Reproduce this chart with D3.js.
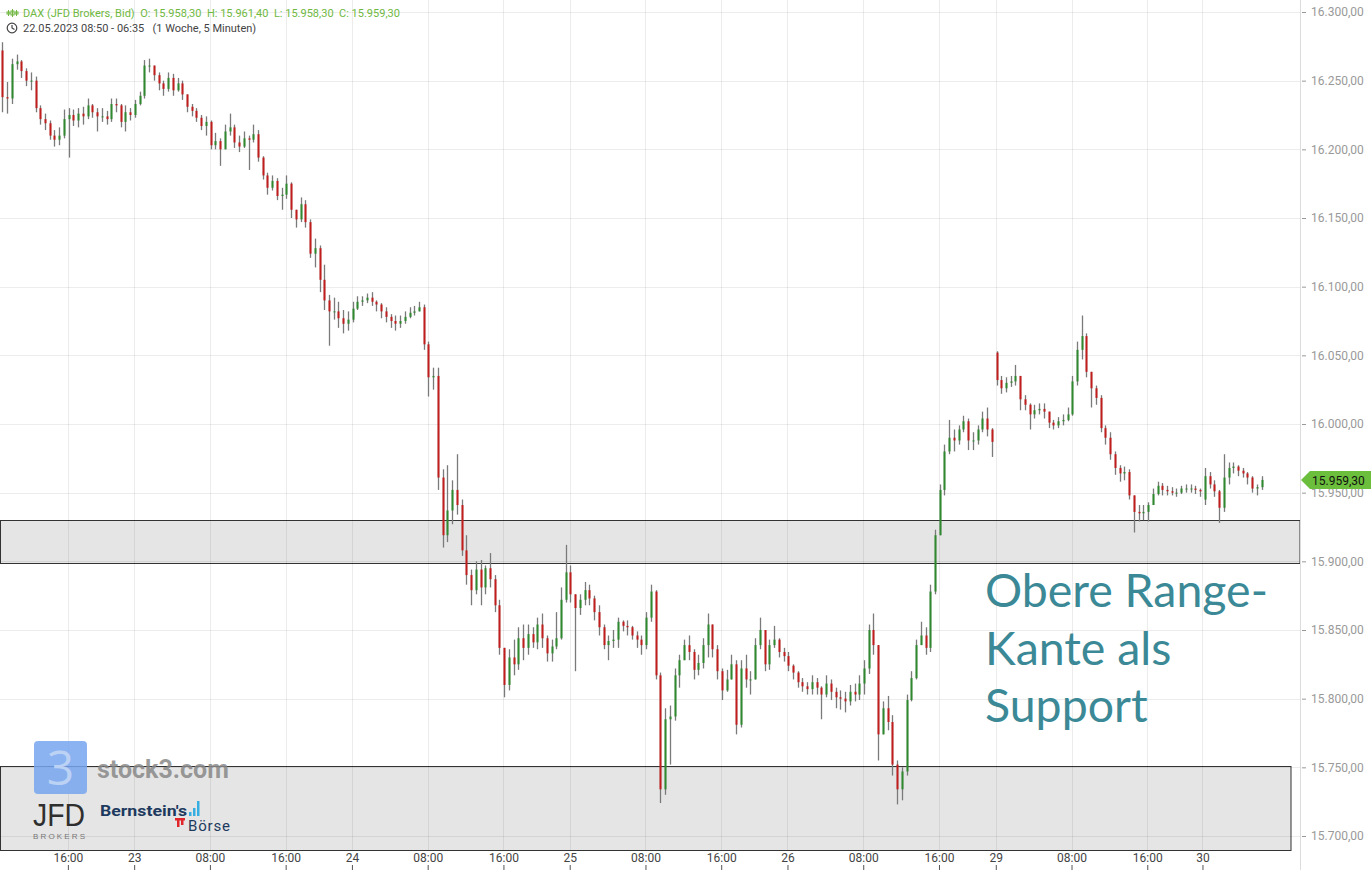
<!DOCTYPE html>
<html><head><meta charset="utf-8">
<script src="https://cdn.jsdelivr.net/npm/d3@7"></script>
<style>
html,body{margin:0;padding:0;background:#fff;}
svg{display:block;font-family:Roboto,"Liberation Sans",Arial,sans-serif;}
</style></head><body>
<svg id="c" width="1371" height="870"></svg>
<script>
// ---- DATA (30-minute candles; open = previous close unless gap) ----
const closes = [
16238,16237,16262,16264,16257,16250,16250,16230,16222,16219,
16210,16207,16210,16222,16225,16221,16226,16224,16232,16227,
16224,16224,16222,16233,16232,16220,16227,16225,16233,16239,
16261,16261,16254,16248,16244,16252,16243,16248,16240,16231,
16228,16223,16217,16220,16203,16206,16200,16213,16216,16205,
16202,16208,16207,16211,16194,16181,16172,16177,16166,16167,
16175,16156,16149,16160,16147,16124,16128,16105,16090,16082,
16082,16077,16073,16076,16084,16089,16090,16092,16089,16087,
16082,16078,16075,16073,16075,16078,16081,16082,16085,16058,
16034,16035,15961,15919,15937,15952,15941,15908,15890,15879,
15894,15881,15895,15887,15868,15837,15810,15830,15825,15844,
15837,15847,15841,15854,15844,15833,15838,15844,15872,15892,
15876,15866,15872,15879,15873,15863,15852,15839,15842,15843,
15856,15853,15852,15846,15843,15839,15859,15878,15817,15734,
15785,15787,15817,15828,15839,15834,15821,15826,15839,15854,
15836,15820,15806,15814,15825,15781,15822,15814,15814,15839,
15850,15825,15839,15843,15834,15831,15824,15819,15812,15809,
15807,15812,15808,15803,15811,15805,15801,15800,15798,15805,
15803,15811,15822,15850,15839,15774,15793,15783,15752,15734,
15747,15799,15815,15839,15846,15837,15878,15919,15952,15980,
15990,15988,15996,16002,15988,15988,15996,16004,15996,15987,
16032,16026,16030,16031,16035,16018,16014,16007,16010,16011,
16009,16001,15999,16002,16003,16007,16031,16054,16064,16038,
16026,16019,15997,15990,15978,15968,15964,15965,15948,15936,
15935,15936,15941,15949,15955,15952,15951,15950,15950,15953,
15953,15953,15952,15951,15962,15956,15951,15939,15961,15968,
15969,15966,15964,15961,15953,15954,15959.3];
const highs = [
16278,16249,16266,16269,16265,16259,16256,16253,16232,16226,
16221,16214,16216,16229,16230,16229,16230,16231,16237,16233,
16230,16230,16228,16237,16237,16233,16232,16230,16236,16242,
16265,16266,16261,16256,16250,16256,16255,16252,16250,16240,
16233,16230,16225,16224,16221,16212,16208,16218,16226,16218,
16210,16213,16210,16218,16214,16195,16183,16181,16179,16172,
16181,16176,16156,16165,16163,16149,16135,16130,16116,16094,
16092,16089,16083,16082,16089,16093,16093,16095,16096,16090,
16088,16085,16080,16079,16079,16082,16085,16086,16089,16087,
16060,16041,16041,15967,15970,15959,15978,15945,15919,15894,
15900,15901,15897,15906,15890,15872,15837,15836,15843,15852,
15854,15854,15852,15859,15862,15846,15843,15863,15881,15912,
15897,15876,15876,15885,15883,15875,15868,15854,15846,15850,
15859,15857,15857,15853,15849,15846,15863,15883,15879,15819,
15793,15795,15822,15832,15843,15846,15836,15832,15844,15862,
15854,15839,15822,15821,15832,15828,15828,15832,15820,15844,
15859,15850,15843,15853,15844,15837,15834,15825,15820,15815,
15812,15817,15815,15809,15817,15814,15808,15806,15805,15810,
15811,15817,15828,15854,15862,15839,15798,15802,15788,15755,
15750,15803,15820,15843,15856,15852,15883,15923,15956,15985,
16003,15996,15999,16006,16004,15994,15999,16009,16012,15997,
16053,16035,16034,16035,16043,16035,16021,16015,16014,16015,
16015,16009,16003,16005,16007,16012,16035,16060,16079,16066,
16038,16028,16021,15999,15994,15980,15970,15969,15967,15948,
15941,15941,15943,15953,15958,15957,15955,15954,15953,15955,
15956,15956,15955,15953,15968,15965,15959,15952,15978,15972,
15972,15970,15968,15965,15962,15956,15962];
const lows = [
16227,16226,16233,16258,16252,16246,16243,16227,16218,16214,
16207,16202,16203,16208,16194,16217,16216,16218,16222,16223,
16213,16220,16218,16220,16227,16216,16213,16221,16223,16232,
16237,16256,16250,16243,16239,16242,16239,16242,16236,16227,
16224,16220,16214,16210,16200,16200,16188,16200,16210,16201,
16198,16201,16185,16205,16191,16178,16167,16170,16163,16156,
16164,16150,16143,16147,16143,16121,16114,16096,16083,16057,
16076,16070,16066,16068,16074,16083,16086,16088,16086,16082,
16077,16074,16070,16068,16070,16073,16077,16079,16082,16054,
16020,16025,15952,15910,15914,15927,15934,15904,15883,15868,
15876,15868,15876,15881,15863,15832,15801,15806,15817,15821,
15828,15832,15837,15836,15837,15827,15827,15836,15843,15870,
15870,15820,15861,15868,15868,15857,15846,15836,15828,15837,
15837,15849,15846,15843,15837,15832,15836,15856,15814,15724,
15730,15752,15784,15808,15828,15828,15814,15817,15822,15830,
15830,15814,15799,15805,15814,15774,15779,15808,15803,15814,
15836,15820,15821,15837,15830,15827,15820,15814,15808,15805,
15803,15803,15803,15785,15801,15799,15793,15792,15790,15795,
15798,15799,15803,15818,15832,15755,15774,15777,15744,15723,
15726,15744,15798,15814,15839,15832,15834,15876,15919,15948,
15978,15980,15985,15994,15981,15981,15985,15994,15991,15976,
16028,16022,16023,16027,16028,16010,16010,15996,16004,16007,
16004,15997,15996,15997,15999,16002,16006,16028,16047,16034,
16012,16014,15994,15985,15974,15963,15958,15959,15945,15921,
15929,15930,15929,15941,15948,15948,15948,15948,15947,15949,
15950,15950,15949,15947,15941,15953,15947,15928,15936,15956,
15964,15962,15961,15956,15950,15948,15952];
const gapOpens = {0: 16272, 210: 16052, 254: 15945};
const candleHours = 0.5;

const yTicks = [15700,15750,15800,15850,15900,15950,16000,16050,16100,16150,16200,16250,16300];
const xTickLabels = ["16:00","23","08:00","16:00","24","08:00","16:00","25","08:00","16:00","26","08:00","16:00","29","08:00","16:00","30"];
const xTickHours  = [7.17,14.17,22.17,30.17,37.17,45.17,53.17,60.17,68.17,76.17,83.17,91.17,99.17,105.17,113.17,121.17,127.0];

const zoneLow  = [15899, 15690];
const zoneHigh = [15930, 15751];
const zoneEndHour = [137.3, 136.35];

const lastPrice = 15959.30;
const headerLine1 = "DAX (JFD Brokers, Bid)  O: 15.958,30  H: 15.961,40  L: 15.958,30  C: 15.959,30";
const headerLine2 = "22.05.2023 08:50 - 06:35   (1 Woche, 5 Minuten)";
const noteLines = ["Obere Range-", "Kante als", "Support"];

// ---- RENDER ----
const W = 1371, H = 870, plotR = 1300, plotB = 850;
const svg = d3.select("#c");
const de = d3.formatLocale({decimal: ",", thousands: ".", grouping: [3], currency: ["", "€"]});
const fmt = de.format(",.2f");

const x = d3.scaleLinear().domain([0, 137.3]).range([0, plotR]);
const y = d3.scaleLinear().domain([15700, 16300]).range([836, 12]);

svg.append("defs").append("clipPath").attr("id", "plot")
  .append("rect").attr("x", 0).attr("y", 0).attr("width", plotR).attr("height", plotB);

// zones (behind)
const zg = svg.append("g");
zoneLow.forEach((lo, i) => {
  zg.append("rect")
    .attr("x", 0.5).attr("y", Math.round(y(zoneHigh[i])) + 0.5)
    .attr("width", Math.round(x(zoneEndHour[i])) - 0.5)
    .attr("height", Math.round(y(lo)) - Math.round(y(zoneHigh[i])))
    .attr("fill", "#000").attr("fill-opacity", 0.1)
    .attr("stroke", "#333").attr("stroke-width", 1);
});

// grid
const grid = svg.append("g").attr("clip-path", "url(#plot)");
grid.selectAll(".hg").data(yTicks).join("line")
  .attr("x1", 0).attr("x2", plotR)
  .attr("y1", d => Math.round(y(d)) + 0.5).attr("y2", d => Math.round(y(d)) + 0.5)
  .attr("stroke", "#000").attr("stroke-opacity", 0.075);
grid.selectAll(".vg").data(xTickHours).join("line")
  .attr("y1", 0).attr("y2", plotB)
  .attr("x1", d => Math.round(x(d)) + 0.5).attr("x2", d => Math.round(x(d)) + 0.5)
  .attr("stroke", "#000").attr("stroke-opacity", 0.075);

// candles
const candles = closes.map((c, i) => {
  const o = (i in gapOpens) ? gapOpens[i] : closes[i - 1];
  return {i, o, c, h: highs[i], l: lows[i]};
});
const cg = svg.append("g").attr("clip-path", "url(#plot)");
cg.selectAll(".w").data(candles).join("line")
  .attr("x1", d => Math.round(x((d.i + 0.5) * candleHours)) + 0.5)
  .attr("x2", d => Math.round(x((d.i + 0.5) * candleHours)) + 0.5)
  .attr("y1", d => y(Math.max(d.h, d.o, d.c)))
  .attr("y2", d => y(Math.min(d.l, d.o, d.c)))
  .attr("stroke", "#7a7a7a").attr("stroke-width", 1.3);
cg.selectAll(".b").data(candles).join("rect")
  .attr("x", d => Math.round(x((d.i + 0.5) * candleHours)) - 0.5)
  .attr("width", 2)
  .attr("y", d => y(Math.max(d.o, d.c)))
  .attr("height", d => Math.max(1, Math.abs(y(d.o) - y(d.c))))
  .attr("fill", d => d.c >= d.o ? "#2f8a2f" : "#c21d1d");

// right axis
svg.append("line").attr("x1", plotR + 0.5).attr("x2", plotR + 0.5).attr("y1", 0).attr("y2", H)
  .attr("stroke", "#dcdcdc");
const ya = svg.append("g").attr("transform", `translate(${plotR + 2},0)`)
  .call(d3.axisRight(y).tickValues(yTicks).tickFormat(fmt).tickSize(4).tickPadding(5));
ya.select(".domain").remove();
ya.selectAll(".tick line").attr("stroke", "#999");
ya.selectAll(".tick text").attr("fill", "#999").attr("font-size", 12)
  .attr("font-family", "Roboto, 'Liberation Sans', Arial, sans-serif");

// bottom axis labels
const xa = svg.append("g").attr("transform", `translate(0,${plotB})`)
  .call(d3.axisBottom(x).tickValues(xTickHours).tickFormat((d, i) => xTickLabels[i]).tickSize(0).tickPadding(3));
xa.select(".domain").remove();
xa.selectAll(".tick text").attr("fill", "#444").attr("font-size", 12)
  .attr("font-family", "Roboto, 'Liberation Sans', Arial, sans-serif");
const xt = svg.append("g").attr("transform", `translate(0,${H - 5})`)
  .call(d3.axisBottom(x).tickValues(xTickHours).tickFormat("").tickSize(5));
xt.select(".domain").remove();
xt.selectAll(".tick line").attr("stroke", "#555");

// last price tag
const ly = Math.round(y(lastPrice));
svg.append("path")
  .attr("d", `M${plotR + 1},${ly} L${plotR + 10},${ly - 9} L${W},${ly - 9} L${W},${ly + 9} L${plotR + 10},${ly + 9} Z`)
  .attr("fill", "#6cbf3c");
svg.append("text").attr("x", plotR + 12).attr("y", ly + 4.5).attr("font-size", 12).attr("fill", "#111")
  .text(fmt(lastPrice));

// header
const hg = svg.append("g");
[[8, 10, 16, 12, 14], [12, 9, 17, 11, 15], [16, 10, 16, 12, 14]].forEach(([cx, t, b, bt, bb]) => {
  hg.append("line").attr("x1", cx + 0.5).attr("x2", cx + 0.5).attr("y1", t).attr("y2", b).attr("stroke", "#72b843");
  hg.append("rect").attr("x", cx - 1).attr("y", bt).attr("width", 3).attr("height", bb - bt)
    .attr("fill", "none").attr("stroke", "#72b843").attr("stroke-width", 1);
});
hg.append("text").attr("x", 23).attr("y", 17).attr("font-size", 11).attr("fill", "#6fb93f")
  .style("white-space", "pre").text(headerLine1);
hg.append("circle").attr("cx", 12).attr("cy", 28).attr("r", 4.8).attr("fill", "none").attr("stroke", "#444").attr("stroke-width", 1.2);
hg.append("path").attr("d", "M12,25 L12,28 L14.5,29.5").attr("fill", "none").attr("stroke", "#444").attr("stroke-width", 1.2);
hg.append("text").attr("x", 23).attr("y", 32).attr("font-size", 11).attr("fill", "#444")
  .style("white-space", "pre").text(headerLine2);

// note text
const ng = svg.append("g");
const noteBase = [607, 665, 722];
const t0 = ng.append("text").attr("x", 985).attr("y", noteBase[0]).attr("font-family", "Lato, 'Open Sans', sans-serif")
  .attr("font-size", 50).attr("fill", "#3b8996").text(noteLines[0]);
const wMeasured = t0.node().getComputedTextLength();
const fs = 50 * 283 / wMeasured;
t0.attr("font-size", fs);
noteLines.slice(1).forEach((s, k) => {
  ng.append("text").attr("x", 985).attr("y", noteBase[k + 1]).attr("font-family", "Lato, 'Open Sans', sans-serif")
    .attr("font-size", fs).attr("fill", "#3b8996").text(s);
});

// logos
const lg = svg.append("g");
lg.append("rect").attr("x", 34).attr("y", 741).attr("width", 53).attr("height", 53).attr("rx", 4)
  .attr("fill", "#78a6ee").attr("fill-opacity", 0.85);
lg.append("text").attr("x", 60.5).attr("y", 785).attr("text-anchor", "middle").attr("font-size", 48)
  .attr("font-weight", 400).attr("fill", "#bcd2f5").attr("font-family", "'Open Sans', sans-serif").text("3");
lg.append("text").attr("x", 97).attr("y", 778).attr("font-size", 25).attr("font-weight", 700)
  .attr("fill", "#888").attr("fill-opacity", 0.85).text("stock3.com");
lg.append("text").attr("x", 33).attr("y", 826).attr("font-size", 31).attr("font-weight", 400)
  .attr("font-family", "'Liberation Sans', Arial, sans-serif")
  .attr("fill", "#2f2f2f").attr("textLength", 52).attr("lengthAdjust", "spacingAndGlyphs").text("JFD");
lg.append("text").attr("x", 33).attr("y", 839).attr("font-size", 8)
  .attr("font-family", "'Liberation Sans', Arial, sans-serif")
  .attr("fill", "#777").attr("textLength", 52).text("BROKERS");
lg.append("text").attr("x", 100).attr("y", 816).attr("font-size", 15).attr("font-weight", 700)
  .attr("fill", "#1d3a5e").attr("textLength", 87).attr("lengthAdjust", "spacingAndGlyphs").text("Bernstein's");
[[189, 812, 4], [193, 808, 8], [197, 801, 15]].forEach(([bx, by, bh]) => {
  lg.append("rect").attr("x", bx).attr("y", by).attr("width", 2.5).attr("height", bh).attr("fill", "#37aee2");
});
lg.append("rect").attr("x", 175).attr("y", 818).attr("width", 10).attr("height", 2.5).attr("fill", "#e0262b");
lg.append("rect").attr("x", 177).attr("y", 818).attr("width", 2.5).attr("height", 9).attr("fill", "#e0262b");
lg.append("rect").attr("x", 181).attr("y", 818).attr("width", 2.5).attr("height", 7).attr("fill", "#e0262b");
lg.append("text").attr("x", 188).attr("y", 831).attr("font-size", 15)
  .attr("fill", "#1d3a5e").attr("textLength", 42).text("Börse");
</script>
</body></html>
